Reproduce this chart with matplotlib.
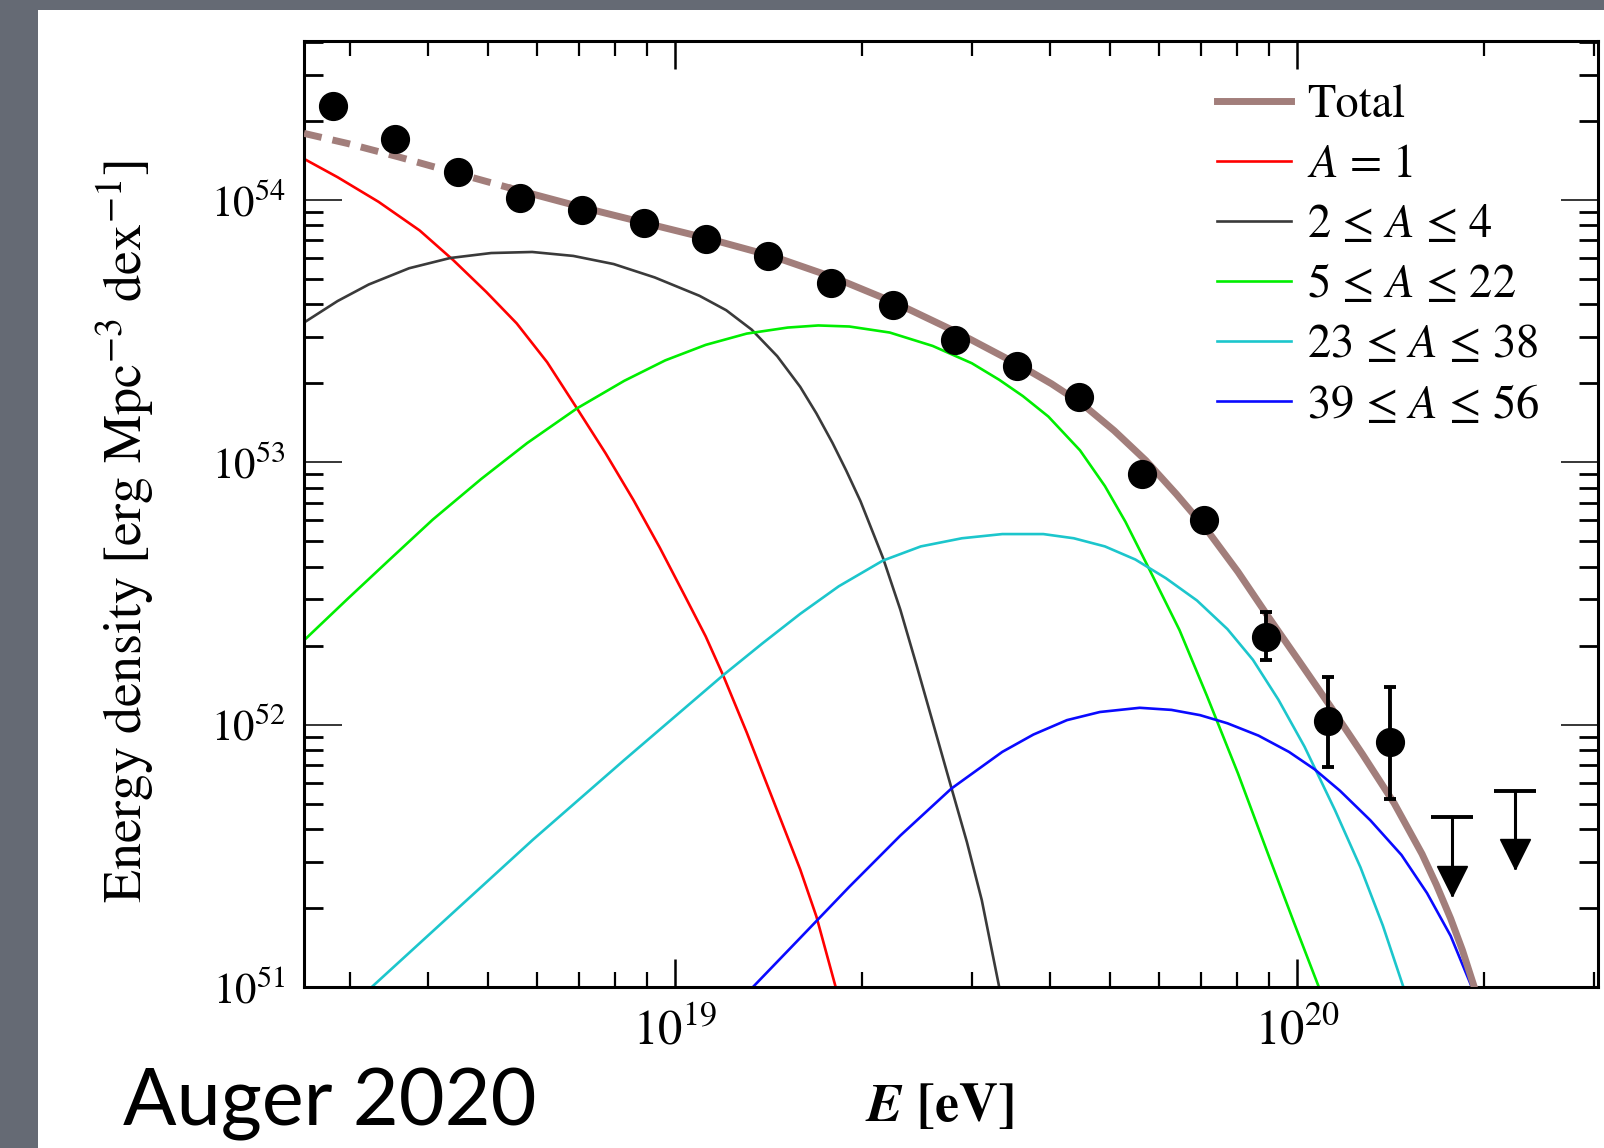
import numpy as np
import matplotlib
matplotlib.use('Agg')
import matplotlib.pyplot as plt
import matplotlib.transforms as mtransforms
from matplotlib.patches import Rectangle
from matplotlib.ticker import NullFormatter

# all values are log10: energy in eV, energy density in erg Mpc^-3 dex^-1

# measured points
data_logE = [18.45, 18.55, 18.65, 18.75, 18.85, 18.95, 19.05, 19.15, 19.25,
             19.35, 19.45, 19.55, 19.65, 19.75, 19.85, 19.95, 20.05, 20.15]
data_logF = [54.358, 54.230, 54.105, 54.008, 53.961, 53.910, 53.852, 53.786, 53.684,
             53.598, 53.466, 53.365, 53.248, 52.956, 52.781, 52.332, 52.013, 51.934]
# error bars only visible on the last three points
err_logE = [19.95, 20.05, 20.15]
err_logF = [52.332, 52.013, 51.934]
err_logF_lo = [52.247, 51.838, 51.717]
err_logF_hi = [52.430, 52.181, 52.142]
# upper limits
ul_logE = [20.25, 20.35]
ul_logF = [51.647, 51.748]

# model curves
total_logE = [18.403, 18.474, 18.554, 18.655, 18.737, 18.854, 18.954, 19.053, 19.155, 19.255,
              19.355, 19.454, 19.554, 19.605, 19.655, 19.706, 19.757, 19.806, 19.855, 19.905,
              19.954, 20.003, 20.054, 20.105, 20.156, 20.201, 20.224, 20.247, 20.266, 20.285]
total_logF = [54.253, 54.214, 54.164, 54.097, 54.043, 53.969, 53.910, 53.852, 53.786, 53.704,
              53.606, 53.494, 53.369, 53.299, 53.221, 53.120, 53.006, 52.878, 52.742, 52.582,
              52.410, 52.243, 52.068, 51.888, 51.701, 51.507, 51.390, 51.261, 51.140, 51.000]
total_dash_end = 18.737  # below this energy the total is drawn dashed

h_logE = [18.403, 18.457, 18.523, 18.589, 18.643, 18.696, 18.745, 18.794, 18.842, 18.888,
          18.933, 18.975, 19.016, 19.049, 19.077, 19.115, 19.156, 19.201, 19.227, 19.258]
h_logF = [54.156, 54.086, 53.992, 53.883, 53.770, 53.649, 53.529, 53.381, 53.205, 53.034,
          52.855, 52.675, 52.488, 52.336, 52.188, 51.970, 51.721, 51.448, 51.269, 51.000]

he_logE = [18.403, 18.457, 18.507, 18.572, 18.638, 18.704, 18.770, 18.836, 18.901, 18.967,
           19.039, 19.082, 19.123, 19.164, 19.201, 19.227, 19.253, 19.275, 19.298, 19.334,
           19.362, 19.388, 19.416, 19.444, 19.469, 19.493, 19.521]
he_logF = [53.532, 53.614, 53.677, 53.739, 53.778, 53.797, 53.801, 53.786, 53.755, 53.704,
           53.634, 53.579, 53.505, 53.404, 53.287, 53.186, 53.073, 52.968, 52.851, 52.636,
           52.438, 52.227, 51.994, 51.760, 51.553, 51.331, 51.000]

cno_logE = [18.403, 18.474, 18.539, 18.610, 18.688, 18.762, 18.842, 18.918, 18.984, 19.049,
            19.115, 19.181, 19.230, 19.280, 19.345, 19.414, 19.477, 19.521, 19.559, 19.600,
            19.651, 19.691, 19.724, 19.758, 19.811, 19.855, 19.905, 19.954, 19.995, 20.035]
cno_logF = [52.321, 52.481, 52.625, 52.781, 52.936, 53.073, 53.205, 53.310, 53.388, 53.447,
            53.490, 53.513, 53.521, 53.517, 53.494, 53.443, 53.377, 53.314, 53.252, 53.174,
            53.045, 52.909, 52.773, 52.613, 52.360, 52.110, 51.814, 51.503, 51.246, 51.000]

si_logE = [18.512, 18.638, 18.771, 18.918, 19.077, 19.140, 19.201, 19.263, 19.334, 19.395,
           19.461, 19.526, 19.592, 19.641, 19.691, 19.740, 19.789, 19.839, 19.888, 19.929,
           19.970, 20.012, 20.061, 20.102, 20.138, 20.171]
si_logF = [51.000, 51.273, 51.561, 51.865, 52.188, 52.309, 52.422, 52.527, 52.625, 52.679,
           52.710, 52.726, 52.726, 52.710, 52.679, 52.629, 52.558, 52.473, 52.364, 52.247,
           52.095, 51.916, 51.674, 51.456, 51.234, 51.000]

fe_logE = [19.125, 19.201, 19.280, 19.362, 19.444, 19.526, 19.576, 19.630, 19.683, 19.747,
           19.798, 19.844, 19.888, 19.938, 19.987, 20.028, 20.069, 20.118, 20.168, 20.209,
           20.247, 20.281]
fe_logF = [51.000, 51.187, 51.382, 51.577, 51.756, 51.896, 51.962, 52.017, 52.048, 52.064,
           52.056, 52.036, 52.005, 51.958, 51.896, 51.830, 51.748, 51.635, 51.503, 51.358,
           51.195, 51.000]

labels = ['Total', r'$A$ = 1', r'2 ≤ $A$ ≤ 4', r'5 ≤ $A$ ≤ 22', r'23 ≤ $A$ ≤ 38', r'39 ≤ $A$ ≤ 56']

plt.rcParams['font.family'] = 'STIXGeneral'
plt.rcParams['mathtext.fontset'] = 'stix'

W, H = 1604, 1148
fig = plt.figure(figsize=(W / 100, H / 100), dpi=100, facecolor='#656a74')
fig.add_artist(Rectangle((38 / W, 0), 1 - 38 / W, 1138 / H, transform=fig.transFigure,
                         facecolor='white', edgecolor='none', zorder=0))

ax = fig.add_axes([304 / W, 161 / H, 1294 / W, 946 / H])
ax.set_xscale('log')
ax.set_yscale('log')


def pw(v):
    return 10 ** np.asarray(v, dtype=float)


line_kw = dict(lw=1.9, zorder=2, solid_joinstyle='round')
ax.plot(pw(h_logE), pw(h_logF), color='#ff0000', label=labels[1], **line_kw)
ax.plot(pw(he_logE), pw(he_logF), color='#3a3a3a', label=labels[2], **line_kw)
ax.plot(pw(cno_logE), pw(cno_logF), color='#00ee00', label=labels[3], **line_kw)
ax.plot(pw(si_logE), pw(si_logF), color='#1cc6cc', label=labels[4], **line_kw)
ax.plot(pw(fe_logE), pw(fe_logF), color='#0a0aff', label=labels[5], **line_kw)

tE = np.array(total_logE)
tF = np.array(total_logF)
dashed = tE <= total_dash_end
solid = tE >= total_dash_end
brown = '#a27e7b'
ax.plot(pw(tE[dashed]), pw(tF[dashed]), color=brown, lw=5, dashes=(2.6, 1.6), zorder=3)
ax.plot(pw(tE[solid]), pw(tF[solid]), color=brown, lw=5, label=labels[0], zorder=3,
        solid_joinstyle='round')

# data points with error bars
eF = pw(err_logF)
ax.errorbar(pw(err_logE), eF, yerr=[eF - pw(err_logF_lo), pw(err_logF_hi) - eF], fmt='none',
            ecolor='black', elinewidth=2.8, capsize=4, capthick=2.8, zorder=4)
ax.plot(pw(data_logE), pw(data_logF), ls='none', marker='o', ms=20, color='black', zorder=5)

# upper limits: cap, shaft and arrow head
arrow_dex = 0.30
uE = pw(ul_logE)
uF = np.array(ul_logF)
ax.vlines(uE, pw(uF - arrow_dex), pw(uF), color='black', lw=2.2, zorder=4)
ax.plot(uE, pw(uF), ls='none', marker='_', ms=30, mew=2.8, color='black', zorder=4)
head = mtransforms.offset_copy(ax.transData, fig=fig, x=0, y=11, units='points')
ax.plot(uE, pw(uF - arrow_dex), ls='none', marker='v', ms=22, color='black',
        transform=head, zorder=4)

ax.set_xlim(10 ** 18.403, 10 ** 20.484)
ax.set_ylim(1e51, 10 ** 54.605)

for s in ax.spines.values():
    s.set_linewidth(2.2)
ax.tick_params(which='both', direction='in', top=True, right=True)
ax.tick_params(axis='y', which='major', length=27, width=1.1, pad=13, labelsize=31)
ax.tick_params(axis='y', which='minor', length=14, width=2.0)
ax.tick_params(axis='x', which='major', length=20, width=1.8, pad=16, labelsize=35)
ax.tick_params(axis='x', which='minor', length=11, width=1.6)
ax.xaxis.set_minor_formatter(NullFormatter())
ax.yaxis.set_minor_formatter(NullFormatter())

ax.set_xlabel(r'$\mathbfit{E}$ [eV]', fontsize=39, fontweight='bold')
ax.xaxis.set_label_coords(0.491, -0.100)
ax.set_ylabel(r'Energy density [erg Mpc$^{-3}$ dex$^{-1}$]', fontsize=39)
ax.yaxis.set_label_coords(-0.1136, 0.481)

handles, labs = ax.get_legend_handles_labels()
order = [labs.index(l) for l in labels]
ax.legend([handles[i] for i in order], [labs[i] for i in order], loc='upper left',
          bbox_to_anchor=(0.7056, 0.954), frameon=False, fontsize=33.5, borderpad=0,
          borderaxespad=0, handlelength=1.59, handletextpad=0.35, labelspacing=0.37)

fig.text(123 / W, 23 / H, 'Auger 2020', family='Lato', fontsize=57, va='baseline', ha='left')

fig.savefig('out.png', dpi=100, facecolor=fig.get_facecolor())
